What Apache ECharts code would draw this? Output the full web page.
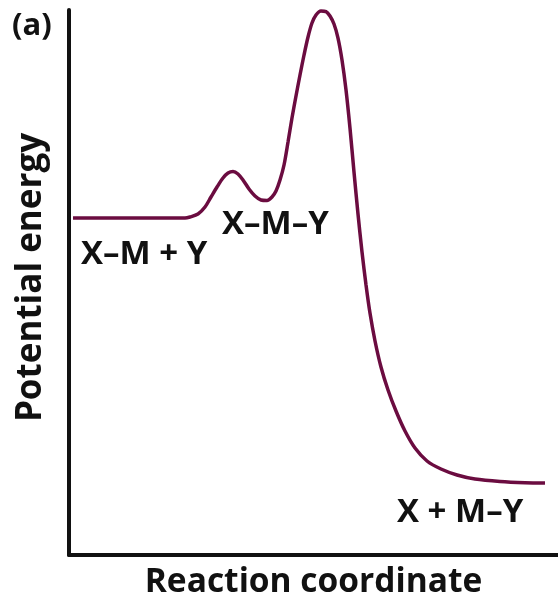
<!DOCTYPE html>
<html>
<head>
<meta charset="utf-8">
<script src="https://cdn.jsdelivr.net/npm/echarts@6/dist/echarts.min.js"></script>
<style>
  html, body { margin: 0; padding: 0; background: #fff; }
  #chart { width: 558px; height: 606px; }
</style>
</head>
<body>
<div id="chart"></div>
<script>
// reaction coordinate (0-100) and potential energy (0-100)
const coord = [0.82, 10.43, 23.72, 24.74, 26.38, 27.81, 29.04, 30.27, 31.49, 32.52, 33.54, 34.56, 35.58, 36.81, 38.04, 39.26, 40.49, 41.51, 42.33, 43.15, 43.97, 44.79, 45.60, 46.42, 47.24, 48.06, 48.88, 49.69, 50.51, 51.53, 52.56, 53.37, 54.19, 55.01, 55.83, 56.65, 57.46, 58.28, 59.10, 59.92, 60.74, 61.55, 62.58, 63.80, 65.24, 66.87, 68.71, 70.76, 73.21, 76.07, 79.35, 83.03, 88.14, 93.25, 97.34];
const energy = [61.83, 61.83, 61.83, 62.02, 62.57, 63.85, 65.69, 67.52, 69.17, 70.09, 70.37, 69.91, 68.81, 67.16, 65.87, 65.14, 65.05, 65.69, 66.79, 68.81, 71.56, 75.78, 80.18, 84.22, 88.07, 91.74, 95.05, 97.61, 99.08, 99.82, 99.72, 98.90, 97.43, 94.86, 90.83, 85.32, 78.35, 70.28, 62.57, 55.60, 49.54, 44.40, 39.27, 34.50, 30.28, 26.42, 22.75, 19.63, 17.25, 15.78, 14.68, 13.94, 13.49, 13.27, 13.21];
const stateLabels = ["X\u2013M + Y", "X\u2013M\u2013Y", "X + M\u2013Y"];

const chart = echarts.init(document.getElementById("chart"), null, { renderer: "canvas" });

const font = "Open Sans";

function label(text, left, top, size) {
  return {
    type: "text", left: left, top: top,
    style: { text: text, fontFamily: font, fontWeight: "bold", fontSize: size, fill: "#111" }
  };
}

chart.setOption({
  animation: false,
  backgroundColor: "#fff",
  grid: { left: 69, right: 0, top: 10, bottom: 51, outerBoundsMode: "none" },
  xAxis: {
    type: "value", min: 0, max: 100,
    name: "Reaction coordinate", nameLocation: "middle", nameGap: 10,
    nameTextStyle: { fontFamily: font, fontWeight: "bold", fontSize: 33.5, color: "#111", verticalAlign: "top" },
    axisLine: { show: true, lineStyle: { color: "#111", width: 4 } },
    axisTick: { show: false }, axisLabel: { show: false }, splitLine: { show: false }
  },
  yAxis: {
    type: "value", min: 0, max: 100,
    name: "Potential energy", nameLocation: "middle", nameGap: 20,
    nameTextStyle: { fontFamily: font, fontWeight: "bold", fontSize: 35, color: "#111", padding: [0, 0, 0, 10] },
    axisLine: { show: true, lineStyle: { color: "#111", width: 4 } },
    axisTick: { show: false }, axisLabel: { show: false }, splitLine: { show: false }
  },
  series: [{
    type: "line",
    data: coord.map((c, i) => [c, energy[i]]),
    smooth: 0.3,
    showSymbol: false,
    lineStyle: { color: "#6b0c40", width: 3.5 }
  }],
  graphic: [
    label("(a)", 12, 11, 31),
    label(stateLabels[0], 81, 238, 33),
    label(stateLabels[1], 222, 208, 33),
    label(stateLabels[2], 397, 496, 33)
  ]
});
</script>
</body>
</html>
